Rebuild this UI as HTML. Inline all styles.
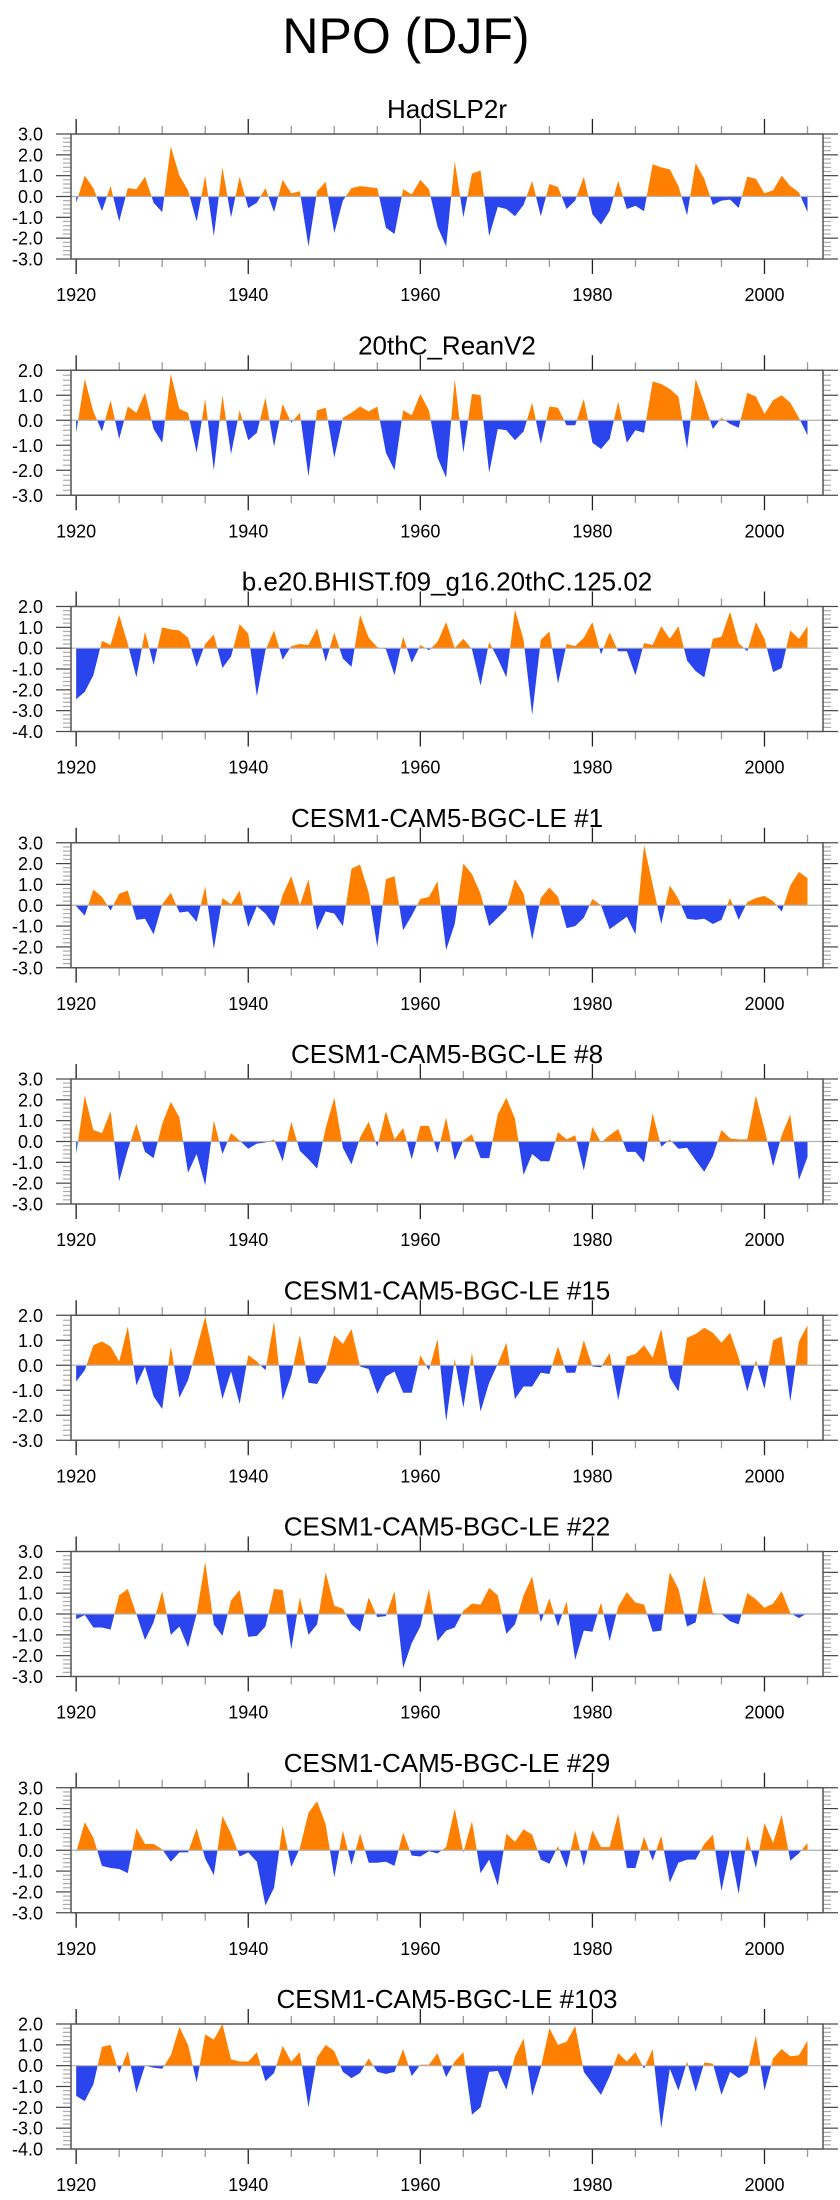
<!DOCTYPE html>
<html><head><meta charset="utf-8"><style>
html,body{margin:0;padding:0;background:#fff;}
svg{display:block;font-family:"Liberation Sans",sans-serif;}
</style></head><body>
<svg id="fig" width="840" height="2200" viewBox="0 0 840 2200" xmlns="http://www.w3.org/2000/svg">
<text x="406" y="53" font-size="50" text-anchor="middle">NPO (DJF)</text>
</svg>
<script>
const startYear = 1920;
const titles = ["HadSLP2r","20thC_ReanV2","b.e20.BHIST.f09_g16.20thC.125.02","CESM1-CAM5-BGC-LE #1","CESM1-CAM5-BGC-LE #8","CESM1-CAM5-BGC-LE #15","CESM1-CAM5-BGC-LE #22","CESM1-CAM5-BGC-LE #29","CESM1-CAM5-BGC-LE #103"];
const yMins = [-3,-3,-4,-3,-3,-3,-3,-3,-4];
const yMaxs = [3,2,2,3,3,2,3,3,2];
const xTickYears = [1920,1940,1960,1980,2000];
const s1 = [-0.3,1.0,0.4,-0.7,0.5,-1.2,0.4,0.35,0.95,-0.3,-0.75,2.4,1.0,0.3,-1.2,1.0,-1.9,1.4,-1.0,0.95,-0.55,-0.3,0.4,-0.75,0.8,0.15,0.25,-2.4,0.25,0.7,-1.75,-0.2,0.4,0.5,0.45,0.4,-1.5,-1.8,0.35,0.1,0.8,0.35,-1.45,-2.4,1.7,-1.0,1.1,1.25,-1.9,-0.5,-0.6,-0.95,-0.4,0.75,-0.95,0.6,0.45,-0.6,-0.2,0.95,-0.85,-1.35,-0.7,0.75,-0.6,-0.45,-0.7,1.55,1.4,1.3,0.5,-0.9,1.6,0.85,-0.4,-0.2,-0.15,-0.55,0.95,0.85,0.15,0.3,1.0,0.5,0.2,-0.75];
const s2 = [-0.5,1.65,0.35,-0.45,0.8,-0.75,0.55,0.3,1.1,-0.35,-0.9,1.85,0.45,0.3,-1.3,0.85,-2.0,1.0,-1.35,0.4,-0.8,-0.5,0.9,-1.05,0.65,-0.1,0.3,-2.25,0.4,0.5,-1.5,0.1,0.3,0.55,0.35,0.55,-1.3,-2.0,0.4,0.2,1.05,0.4,-1.5,-2.3,1.65,-1.3,1.05,1.0,-2.1,-0.35,-0.4,-0.8,-0.45,0.7,-0.95,0.55,0.5,-0.2,-0.2,0.85,-0.9,-1.15,-0.75,0.75,-0.9,-0.4,-0.5,1.55,1.45,1.25,0.95,-1.15,1.65,0.7,-0.35,0.1,-0.15,-0.3,1.1,0.95,0.25,0.8,1.0,0.7,0.1,-0.6];
const s3 = [-2.45,-2.1,-1.3,0.35,0.15,1.6,0.2,-1.4,0.8,-0.8,1.0,0.9,0.85,0.5,-0.9,0.2,0.65,-0.95,-0.4,1.15,0.7,-2.3,-0.1,0.85,-0.55,0.1,0.2,0.15,0.95,-0.65,0.75,-0.5,-0.9,1.6,0.5,0.05,-0.05,-1.3,0.55,-0.7,0.15,-0.1,0.3,1.25,0.0,0.45,-0.05,-1.8,0.3,-0.5,-1.4,1.85,0.4,-3.2,0.4,0.8,-1.7,0.2,0.1,0.5,1.25,-0.3,0.75,-0.15,-0.15,-1.3,0.25,0.15,1.05,0.45,1.05,-0.6,-1.1,-1.4,0.45,0.55,1.75,0.25,-0.15,1.25,0.45,-1.15,-0.95,0.85,0.45,1.05];
const s4 = [-0.05,-0.5,0.75,0.4,-0.25,0.55,0.7,-0.7,-0.65,-1.4,0.05,0.6,-0.35,-0.3,-0.8,0.9,-2.1,0.35,0.05,0.7,-1.05,-0.05,-0.4,-1.0,0.5,1.4,0.0,1.25,-1.2,-0.3,-0.4,-1.0,1.75,1.95,0.6,-2.0,1.25,1.4,-1.2,-0.5,0.3,0.4,1.15,-2.15,-0.9,2.0,1.5,0.55,-1.0,-0.6,-0.2,1.25,0.55,-1.65,0.35,0.85,0.4,-1.1,-1.0,-0.6,0.3,0.0,-1.15,-0.85,-0.55,-1.4,2.9,1.0,-0.9,0.95,0.3,-0.65,-0.7,-0.65,-0.9,-0.7,0.35,-0.7,0.15,0.35,0.45,0.2,-0.3,0.95,1.6,1.3];
const s5 = [-0.6,2.2,0.55,0.4,1.45,-1.9,-0.4,0.85,-0.5,-0.8,0.85,1.9,1.15,-1.5,-0.6,-2.1,1.0,-0.6,0.4,0.05,-0.35,-0.1,-0.05,0.1,-0.95,0.95,-0.45,-0.85,-1.3,0.65,2.1,-0.3,-1.1,0.2,0.95,-0.25,1.45,0.1,0.65,-0.85,0.75,0.75,-0.55,1.15,-0.9,0.05,0.35,-0.8,-0.8,1.3,2.1,1.1,-1.6,-0.6,-0.95,-0.95,0.45,0.1,0.3,-1.4,0.7,-0.05,0.3,0.6,-0.5,-0.5,-1.0,1.35,-0.25,0.1,-0.35,-0.3,-0.9,-1.45,-0.7,0.55,0.15,0.1,0.1,2.2,0.6,-1.2,0.3,1.3,-1.85,-0.75];
const s6 = [-0.65,-0.2,0.8,0.95,0.75,0.15,1.55,-0.8,-0.05,-1.25,-1.75,0.75,-1.3,-0.6,0.65,1.95,0.3,-1.35,-0.25,-1.55,0.4,0.15,-0.2,1.75,-1.4,-0.4,1.2,-0.7,-0.75,-0.15,1.2,0.85,1.45,-0.05,-0.15,-1.15,-0.45,-0.25,-1.1,-1.1,0.4,-0.2,1.05,-2.25,0.25,-1.7,0.5,-1.85,-0.7,0.05,0.9,-1.35,-0.85,-0.85,-0.3,-0.35,0.75,-0.3,-0.3,1.0,-0.05,-0.08,0.5,-1.4,0.35,0.45,0.8,0.3,1.45,-0.5,-1.05,1.1,1.25,1.5,1.3,0.9,1.3,0.3,-1.05,0.2,-0.95,1.0,1.15,-1.45,0.95,1.6];
const s7 = [-0.25,-0.05,-0.65,-0.65,-0.75,0.9,1.2,0.0,-1.25,-0.4,1.1,-1.0,-0.6,-1.6,0.0,2.5,-0.5,-1.05,0.65,1.15,-1.1,-1.05,-0.6,1.2,1.15,-1.7,0.8,-1.0,-0.5,2.0,0.4,0.25,-0.5,-0.85,0.8,-0.15,-0.1,1.1,-2.6,-1.4,-0.6,1.2,-1.3,-0.8,-0.65,0.15,0.5,0.45,1.25,0.9,-0.95,-0.5,0.9,1.8,-0.4,0.75,-0.6,0.6,-2.2,-0.8,-0.85,0.55,-1.3,0.35,1.05,0.55,0.45,-0.85,-0.8,2.0,1.2,-0.6,-0.4,1.85,0.05,0.0,-0.35,-0.5,1.0,0.7,0.3,0.5,1.1,0.05,-0.2,0.05];
const s8 = [-0.1,1.35,0.6,-0.75,-0.85,-0.9,-1.1,1.05,0.3,0.3,0.05,-0.55,-0.1,-0.1,1.05,-0.4,-1.2,1.65,0.8,-0.3,-0.1,-0.55,-2.65,-1.8,1.2,-0.8,0.1,1.8,2.35,1.25,-1.3,0.95,-0.7,0.8,-0.6,-0.6,-0.55,-0.75,0.85,-0.25,-0.3,-0.05,-0.15,0.15,2.0,-0.1,1.4,-1.1,-0.45,-1.7,0.8,0.4,1.0,0.75,-0.45,-0.65,0.2,-0.85,0.95,-0.75,0.95,0.15,0.15,1.75,-0.85,-0.85,0.65,-0.5,0.7,-1.55,-0.6,-0.45,-0.45,0.3,0.75,-1.95,0.05,-2.1,0.7,-0.85,1.3,0.35,1.7,-0.5,-0.15,0.35];
const s9 = [-1.45,-1.7,-0.9,0.9,1.0,-0.35,0.7,-1.3,0.0,-0.1,-0.15,0.5,1.85,1.0,-0.8,1.5,1.25,2.0,0.3,0.2,0.2,0.65,-0.75,-0.35,0.95,0.2,0.65,-2.0,0.4,1.0,0.7,-0.3,-0.6,-0.35,0.35,-0.3,-0.4,-0.3,0.8,-0.5,0.05,0.05,0.6,-0.55,0.2,0.65,-2.35,-2.0,-0.3,-0.25,-1.15,0.45,1.3,-1.45,-0.1,1.8,1.0,1.15,1.9,-0.3,-0.85,-1.4,-0.5,0.6,0.2,0.65,-0.15,0.8,-3.0,-0.15,-1.2,0.2,-1.25,0.15,0.1,-1.4,-0.3,-0.6,-0.35,1.45,-1.2,0.35,0.8,0.45,0.5,1.2];
const series = [s1,s2,s3,s4,s5,s6,s7,s8,s9];

const NS = "http://www.w3.org/2000/svg";
const svg = document.getElementById("fig");
const X0 = 71, X1 = 823, XMIN = 1919.4, XMAX = 2006.8;
const PH = 125, TOP0 = 134, STEP = 236.25;
const ORANGE = "#ff8000", BLUE = "#2a44ee";
function xs(yr){ return X0 + (yr - XMIN) / (XMAX - XMIN) * (X1 - X0); }
function mk(tag, attrs, parent){
  const e = document.createElementNS(NS, tag);
  for (const k in attrs) e.setAttribute(k, attrs[k]);
  (parent || svg).appendChild(e);
  return e;
}
function f(v){ return v.toFixed(1); }

series.forEach((vals, p) => {
  const top = TOP0 + STEP * p, bot = top + PH;
  const lo = yMins[p], hi = yMaxs[p];
  const ys = v => bot - (v - lo) / (hi - lo) * PH;
  const g = mk("g", {});
  
  
  const t = mk("text", {x: (X0 + X1) / 2, y: top - 16, "font-size": 26, "text-anchor": "middle"}, g);
  t.textContent = titles[p];
  
  
  const y0 = ys(0);
  let d = "M" + xs(startYear).toFixed(2) + "," + y0.toFixed(2);
  vals.forEach((v, i) => { d += " L" + xs(startYear + i).toFixed(2) + "," + ys(v).toFixed(2); });
  d += " L" + xs(startYear + vals.length - 1).toFixed(2) + "," + y0.toFixed(2) + " Z";
  const cpA = mk("clipPath", {id: "ca" + p}, g);
  mk("rect", {x: X0, y: top, width: X1 - X0, height: y0 - top}, cpA);
  const cpB = mk("clipPath", {id: "cb" + p}, g);
  mk("rect", {x: X0, y: y0, width: X1 - X0, height: bot - y0}, cpB);
  const a = mk("path", {d: d, fill: ORANGE, "clip-path": "url(#ca" + p + ")"}, g);
  
  
  const b = mk("path", {d: d, fill: BLUE, "clip-path": "url(#cb" + p + ")"}, g);
  
  
  const zl = mk("line", {x1: X0, x2: X1, y1: y0, y2: y0, stroke: "#b0b0b0", "stroke-width": 1.2}, g);
  
  
  // y ticks
  for (let k = Math.round(lo * 5); k <= Math.round(hi * 5); k++) {
    const v = k / 5, yy = ys(v), major = (k % 5 === 0);
    const len = major ? 15 : 8, col = major ? "#444" : "#aaa";
    mk("line", {x1: X0 - len, x2: X0, y1: yy, y2: yy, stroke: col, "stroke-width": 1.2}, g);
    mk("line", {x1: X1, x2: X1 + len, y1: yy, y2: yy, stroke: col, "stroke-width": 1.2}, g);
    if (major) {
      const lt = mk("text", {x: 43, y: yy + 6.5, "font-size": 18, "text-anchor": "end"}, g);
      lt.textContent = f(v);
      
      
    }
  }
  // x ticks
  for (let yr = 1920; yr <= 2005; yr += 5) {
    const xx = xs(yr), major = (yr % 20 === 0);
    const len = major ? 15 : 8, col = major ? "#222" : "#999";
    mk("line", {x1: xx, x2: xx, y1: top - len, y2: top, stroke: col, "stroke-width": 1.3}, g);
    mk("line", {x1: xx, x2: xx, y1: bot, y2: bot + len, stroke: col, "stroke-width": 1.3}, g);
  }
  xTickYears.forEach(yr => {
    const lt = mk("text", {x: xs(yr), y: bot + 42, "font-size": 18, "text-anchor": "middle"}, g);
    lt.textContent = String(yr);
    
    
  });
  const fr = mk("rect", {x: X0, y: top, width: X1 - X0, height: PH, fill: "none", stroke: "#555", "stroke-width": 1.5}, g);
  
  
});
</script>
</body></html>
